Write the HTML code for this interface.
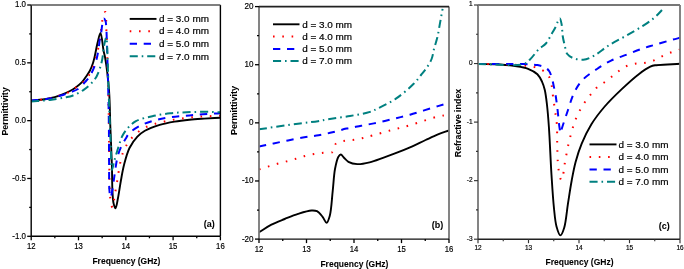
<!DOCTYPE html>
<html><head><meta charset="utf-8"><style>
html,body{margin:0;padding:0;background:#fff;width:684px;height:269px;overflow:hidden}
svg{display:block;will-change:transform}
text{font-family:"Liberation Sans",sans-serif;fill:#000;stroke:#000;stroke-width:0.18px}
text[font-weight=bold]{stroke-width:0.05px}
</style></head><body>
<svg width="684" height="269" viewBox="0 0 684 269">
<rect width="684" height="269" fill="#fff"/>
<defs><clipPath id="ca"><rect x="31.2" y="5.0" width="189.20000000000002" height="231.3"/></clipPath><clipPath id="cb"><rect x="259.0" y="6.6" width="190.0" height="232.5"/></clipPath><clipPath id="cc"><rect x="478.0" y="5.0" width="202.0" height="234.2"/></clipPath></defs>
<path d="M31.00,100.60 C34.00,100.33 36.93,100.17 40.00,99.80 C43.25,99.41 46.69,99.04 50.00,98.30 C53.36,97.55 56.70,96.50 60.00,95.30 C63.37,94.07 67.14,92.49 70.00,91.00 C72.30,89.80 74.05,88.72 76.00,87.30 C78.06,85.80 80.29,84.04 82.00,82.20 C83.59,80.49 84.69,78.61 86.00,76.70 C87.36,74.71 88.85,72.72 90.00,70.50 C91.20,68.17 92.17,65.57 93.00,63.00 C93.84,60.40 94.33,57.94 95.00,55.00 C95.82,51.41 96.54,46.80 97.50,43.00 C98.39,39.49 99.59,32.95 100.50,33.00 C101.70,33.07 102.71,46.62 103.60,51.00 C104.12,53.55 104.50,54.18 105.00,57.00 C106.16,63.56 108.10,78.59 109.00,90.00 C109.96,102.20 109.91,115.42 110.40,128.00 C110.88,140.42 111.56,153.87 111.90,165.00 C112.18,174.15 112.04,183.02 112.40,190.00 C112.66,195.04 112.74,199.66 113.50,203.00 C114.00,205.20 114.86,208.34 115.50,208.30 C116.38,208.25 117.20,201.93 118.00,198.00 C119.05,192.85 119.95,185.72 121.00,180.00 C121.96,174.76 122.67,170.12 124.00,165.00 C125.44,159.47 127.05,152.93 129.50,148.00 C131.66,143.67 134.56,139.70 137.40,136.70 C139.76,134.20 141.83,132.57 144.90,130.80 C148.87,128.51 154.70,126.44 159.70,124.90 C164.60,123.39 169.62,122.47 174.60,121.60 C179.52,120.74 184.45,120.20 189.40,119.70 C194.35,119.20 199.27,118.93 204.30,118.60 C209.46,118.26 214.77,118.00 220.00,117.70" fill="none" stroke="#000" stroke-width="1.9" stroke-linejoin="round" clip-path="url(#ca)"/>
<path d="M31.00,100.60 C37.33,99.83 44.71,99.40 50.00,98.30 C53.90,97.48 56.86,96.32 60.00,95.30 C62.83,94.38 65.40,93.76 68.00,92.50 C70.75,91.17 73.30,89.29 76.00,87.40 C78.96,85.33 82.45,83.25 85.00,80.50 C87.59,77.70 89.62,74.33 91.40,70.70 C93.35,66.73 94.71,62.01 96.00,57.50 C97.32,52.91 98.27,48.43 99.20,43.40 C100.25,37.69 101.06,30.11 101.80,25.00 C102.33,21.34 102.38,17.94 103.20,15.60 C103.74,14.05 104.77,11.87 105.30,12.00 C106.44,12.27 106.05,23.19 106.40,31.00 C106.97,43.53 107.58,64.01 108.00,80.00 C108.40,95.32 108.68,110.44 108.90,125.00 C109.11,138.73 109.09,152.62 109.30,165.00 C109.48,175.72 109.53,187.93 110.00,195.00 C110.26,198.88 110.37,201.73 111.00,204.00 C111.41,205.48 112.15,207.56 112.60,207.50 C113.23,207.42 113.56,202.49 114.00,200.00 C114.43,197.55 114.74,195.45 115.20,192.70 C115.80,189.13 116.56,184.80 117.30,180.40 C118.15,175.33 118.95,168.96 120.00,164.00 C120.89,159.81 121.67,156.02 123.00,152.50 C124.22,149.27 125.60,146.47 127.50,143.60 C129.58,140.46 132.36,137.12 135.20,134.50 C137.92,131.99 141.03,129.81 144.10,128.10 C146.98,126.50 149.93,125.43 153.00,124.40 C156.13,123.35 159.53,122.63 162.70,121.90 C165.72,121.21 168.60,120.65 171.60,120.10 C174.64,119.55 177.71,119.05 180.80,118.60 C183.91,118.15 187.11,117.72 190.20,117.40 C193.20,117.09 196.09,116.90 199.10,116.70 C202.19,116.50 205.21,116.34 208.50,116.20 C212.14,116.04 216.17,115.93 220.00,115.80" fill="none" stroke="#ff0000" stroke-width="2" stroke-dasharray="1.6 7.7" stroke-linejoin="round" clip-path="url(#ca)"/>
<path d="M31.00,100.60 C37.33,99.93 44.71,99.61 50.00,98.60 C53.90,97.85 56.68,96.83 60.00,95.80 C63.35,94.76 66.87,93.59 70.00,92.40 C72.84,91.32 75.49,90.70 78.00,89.00 C80.87,87.07 83.85,83.45 86.00,81.00 C87.63,79.14 88.73,77.85 90.00,75.80 C91.57,73.26 93.28,69.60 94.40,66.70 C95.36,64.20 95.87,62.08 96.50,59.50 C97.22,56.57 97.84,53.36 98.40,50.00 C99.03,46.24 99.45,40.96 100.00,38.00 C100.33,36.23 100.68,35.48 101.00,33.80 C101.47,31.32 101.77,27.25 102.30,24.50 C102.73,22.27 103.12,18.62 103.80,18.50 C104.28,18.42 105.09,19.89 105.50,21.00 C106.13,22.69 106.09,25.35 106.30,28.00 C106.57,31.46 106.61,34.67 106.80,40.00 C107.18,50.67 107.84,72.73 108.20,88.00 C108.53,101.94 108.75,114.93 108.90,128.00 C109.04,140.57 109.00,153.87 109.10,165.00 C109.18,174.15 108.94,184.11 109.40,190.00 C109.66,193.24 110.02,197.47 110.50,197.50 C110.92,197.53 111.59,193.88 112.00,192.00 C112.43,190.05 112.60,188.61 113.00,186.00 C113.75,181.13 115.02,170.71 116.00,165.00 C116.68,161.04 117.02,158.29 118.00,155.00 C119.00,151.62 120.57,147.93 122.00,145.00 C123.20,142.55 124.57,140.51 125.80,138.50 C126.89,136.71 127.37,135.19 129.00,133.50 C131.49,130.92 136.25,127.76 140.40,125.60 C144.72,123.35 149.68,121.76 154.50,120.40 C159.35,119.03 164.48,118.15 169.40,117.40 C174.15,116.67 178.86,116.34 183.50,115.90 C188.02,115.47 192.32,115.16 196.90,114.80 C201.71,114.42 207.47,113.96 211.70,113.70 C214.86,113.51 217.23,113.43 220.00,113.30" fill="none" stroke="#0000ff" stroke-width="2" stroke-dasharray="7.3 6.7" stroke-linejoin="round" clip-path="url(#ca)"/>
<path d="M31.00,101.50 C37.33,100.97 44.01,100.64 50.00,99.90 C55.42,99.23 61.28,98.23 65.40,97.40 C68.20,96.83 69.84,96.67 72.40,95.70 C75.85,94.40 80.36,92.23 84.00,89.60 C87.93,86.76 92.28,82.85 95.00,79.00 C97.42,75.58 98.77,71.48 100.00,68.00 C101.05,65.03 101.55,62.78 102.20,59.50 C103.07,55.12 103.53,48.04 104.40,44.00 C104.97,41.34 105.84,37.45 106.30,37.50 C106.89,37.56 106.92,43.70 107.20,48.50 C107.72,57.59 108.04,74.79 108.50,88.00 C108.97,101.29 109.53,116.65 110.00,128.00 C110.35,136.42 110.78,143.37 111.00,150.00 C111.18,155.48 111.01,161.35 111.30,165.00 C111.47,167.12 111.64,169.98 112.00,170.00 C112.46,170.02 113.29,164.66 114.00,162.00 C114.72,159.33 115.47,156.79 116.30,154.00 C117.22,150.92 118.26,147.40 119.30,144.30 C120.27,141.41 120.96,138.62 122.30,136.00 C123.67,133.32 125.38,130.78 127.50,128.40 C129.83,125.78 132.38,123.04 135.90,121.10 C140.26,118.70 146.68,117.49 152.30,116.20 C158.07,114.87 164.27,113.97 170.10,113.30 C175.66,112.66 180.92,112.45 186.50,112.20 C192.31,111.94 198.55,111.79 204.30,111.80 C209.70,111.81 214.77,112.07 220.00,112.20" fill="none" stroke="#008080" stroke-width="2" stroke-dasharray="8.1 3.9 1.6 3.9" stroke-linejoin="round" clip-path="url(#ca)"/>
<line x1="31.2" y1="5.0" x2="31.2" y2="236.3" stroke="#000" stroke-width="1.4"/><line x1="220.4" y1="5.0" x2="220.4" y2="236.3" stroke="#000" stroke-width="1.4"/><line x1="31.2" y1="5.0" x2="220.4" y2="5.0" stroke="#555" stroke-width="1.5"/><line x1="31.2" y1="236.3" x2="220.4" y2="236.3" stroke="#000" stroke-width="1.4"/>
<line x1="27.2" y1="5.00" x2="31.2" y2="5.00" stroke="#000" stroke-width="1.3"/>
<line x1="29.2" y1="33.91" x2="31.2" y2="33.91" stroke="#000" stroke-width="1.3"/>
<line x1="27.2" y1="62.83" x2="31.2" y2="62.83" stroke="#000" stroke-width="1.3"/>
<line x1="29.2" y1="91.74" x2="31.2" y2="91.74" stroke="#000" stroke-width="1.3"/>
<line x1="27.2" y1="120.65" x2="31.2" y2="120.65" stroke="#000" stroke-width="1.3"/>
<line x1="29.2" y1="149.56" x2="31.2" y2="149.56" stroke="#000" stroke-width="1.3"/>
<line x1="27.2" y1="178.48" x2="31.2" y2="178.48" stroke="#000" stroke-width="1.3"/>
<line x1="29.2" y1="207.39" x2="31.2" y2="207.39" stroke="#000" stroke-width="1.3"/>
<line x1="27.2" y1="236.30" x2="31.2" y2="236.30" stroke="#000" stroke-width="1.3"/>
<line x1="31.20" y1="236.3" x2="31.20" y2="240.3" stroke="#000" stroke-width="1.3"/>
<line x1="54.85" y1="236.3" x2="54.85" y2="238.3" stroke="#000" stroke-width="1.3"/>
<line x1="78.50" y1="236.3" x2="78.50" y2="240.3" stroke="#000" stroke-width="1.3"/>
<line x1="102.15" y1="236.3" x2="102.15" y2="238.3" stroke="#000" stroke-width="1.3"/>
<line x1="125.80" y1="236.3" x2="125.80" y2="240.3" stroke="#000" stroke-width="1.3"/>
<line x1="149.45" y1="236.3" x2="149.45" y2="238.3" stroke="#000" stroke-width="1.3"/>
<line x1="173.10" y1="236.3" x2="173.10" y2="240.3" stroke="#000" stroke-width="1.3"/>
<line x1="196.75" y1="236.3" x2="196.75" y2="238.3" stroke="#000" stroke-width="1.3"/>
<line x1="220.40" y1="236.3" x2="220.40" y2="240.3" stroke="#000" stroke-width="1.3"/>
<text transform="translate(26.0,7.22) scale(0.88,1)" text-anchor="end" font-size="9">1.0</text>
<text transform="translate(26.0,65.05) scale(0.88,1)" text-anchor="end" font-size="9">0.5</text>
<text transform="translate(26.0,122.87) scale(0.88,1)" text-anchor="end" font-size="9">0.0</text>
<text transform="translate(26.0,180.70) scale(0.88,1)" text-anchor="end" font-size="9">-0.5</text>
<text transform="translate(26.0,238.52) scale(0.88,1)" text-anchor="end" font-size="9">-1.0</text>
<text transform="translate(31.20,248.88) scale(0.9,1)" text-anchor="middle" font-size="8.6">12</text>
<text transform="translate(78.50,248.88) scale(0.9,1)" text-anchor="middle" font-size="8.6">13</text>
<text transform="translate(125.80,248.88) scale(0.9,1)" text-anchor="middle" font-size="8.6">14</text>
<text transform="translate(173.10,248.88) scale(0.9,1)" text-anchor="middle" font-size="8.6">15</text>
<text transform="translate(220.40,248.88) scale(0.9,1)" text-anchor="middle" font-size="8.6">16</text>
<text transform="translate(7.52,111.4) rotate(-90) scale(1.0,1)" text-anchor="middle" font-size="8.9" font-weight="bold">Permittivity</text>
<text transform="translate(126.4,264.48) scale(1.0,1)" text-anchor="middle" font-size="8.5" font-weight="bold">Frequency (GHz)</text>
<text transform="translate(209.2,227.35) scale(1.0,1)" text-anchor="middle" font-size="9" font-weight="bold">(a)</text>
<path d="M129.7,18.9 L156.5,18.9" fill="none" stroke="#000" stroke-width="1.9"/>
<text x="0" y="0" transform="translate(159.0,22.12) scale(1.08,1)" font-size="9.2">d = 3.0 mm</text>
<path d="M129.7,31.2 L156.5,31.2" fill="none" stroke="#ff0000" stroke-width="2" stroke-dasharray="1.6 7.7"/>
<text x="0" y="0" transform="translate(159.0,34.42) scale(1.08,1)" font-size="9.2">d = 4.0 mm</text>
<path d="M129.7,43.7 L156.5,43.7" fill="none" stroke="#0000ff" stroke-width="2" stroke-dasharray="7.3 6.7"/>
<text x="0" y="0" transform="translate(159.0,46.92) scale(1.08,1)" font-size="9.2">d = 5.0 mm</text>
<path d="M129.7,56.3 L156.5,56.3" fill="none" stroke="#008080" stroke-width="2" stroke-dasharray="8.1 3.9 1.6 3.9"/>
<text x="0" y="0" transform="translate(159.0,59.52) scale(1.08,1)" font-size="9.2">d = 7.0 mm</text>
<path d="M259.00,232.30 C263.13,229.73 267.10,226.82 271.40,224.60 C275.67,222.39 280.24,220.79 284.70,219.00 C289.14,217.22 293.59,215.32 298.10,213.90 C302.53,212.50 308.00,210.71 311.50,210.50 C313.72,210.36 315.29,210.36 317.00,211.20 C319.04,212.20 320.97,214.82 322.60,216.80 C324.15,218.69 325.42,222.90 326.60,222.80 C327.83,222.70 328.92,218.87 329.80,215.70 C331.37,210.05 331.81,199.08 332.70,191.10 C333.54,183.54 333.82,175.25 335.00,169.00 C335.90,164.26 336.97,159.04 338.40,156.70 C339.12,155.52 339.96,154.48 340.80,154.50 C341.80,154.53 342.83,156.67 344.00,157.80 C345.33,159.09 346.52,160.79 348.40,161.80 C350.73,163.06 354.07,163.93 357.30,164.10 C361.05,164.30 365.46,163.29 369.60,162.30 C374.02,161.24 378.67,159.32 383.00,157.80 C387.12,156.35 390.79,155.03 395.00,153.40 C399.74,151.57 404.98,149.49 410.00,147.30 C415.18,145.04 420.69,142.26 425.60,140.00 C429.96,137.99 433.96,136.04 438.00,134.40 C441.75,132.88 445.33,131.73 449.00,130.40" fill="none" stroke="#000" stroke-width="1.9" stroke-linejoin="round" clip-path="url(#cb)"/>
<path d="M259.00,169.40 C262.00,168.47 264.97,167.53 268.00,166.60 C271.07,165.66 274.19,164.67 277.30,163.80 C280.39,162.94 283.50,162.23 286.60,161.40 C289.70,160.57 292.84,159.71 295.90,158.80 C298.91,157.91 301.79,156.78 304.80,156.00 C307.82,155.21 310.92,154.63 314.00,154.10 C317.08,153.57 320.20,153.15 323.30,152.80 C326.40,152.45 330.78,153.46 332.60,152.00 C334.10,150.80 333.73,147.61 334.50,146.00 C335.09,144.78 335.38,143.79 336.50,143.00 C338.24,141.76 342.09,141.33 345.00,140.80 C347.99,140.25 351.12,140.27 354.20,139.80 C357.35,139.31 360.59,138.64 363.70,137.90 C366.75,137.17 369.22,136.38 372.70,135.40 C377.53,134.04 384.02,132.14 390.00,130.50 C396.42,128.74 402.80,127.27 410.00,125.20 C418.57,122.73 430.76,118.21 438.00,116.50 C442.46,115.45 445.33,115.30 449.00,114.70" fill="none" stroke="#ff0000" stroke-width="2" stroke-dasharray="1.6 7.7" stroke-linejoin="round" clip-path="url(#cb)"/>
<path d="M259.00,146.50 C263.87,145.47 267.95,144.57 273.60,143.40 C281.40,141.79 293.32,139.24 301.50,137.80 C307.88,136.68 313.21,136.17 318.60,135.20 C323.49,134.32 327.88,133.40 332.50,132.30 C337.15,131.20 341.67,129.67 346.40,128.60 C351.26,127.50 356.19,126.78 361.30,125.80 C366.71,124.76 372.42,123.71 378.00,122.50 C383.65,121.28 389.52,119.84 395.00,118.50 C400.16,117.24 404.25,116.31 410.00,114.70 C417.91,112.48 430.80,108.22 438.00,106.10 C442.50,104.78 445.33,104.03 449.00,103.00" fill="none" stroke="#0000ff" stroke-width="2" stroke-dasharray="7.3 6.7" stroke-linejoin="round" clip-path="url(#cb)"/>
<path d="M259.00,129.30 C272.67,127.33 289.10,124.85 300.00,123.40 C307.21,122.44 312.92,122.00 318.00,121.20 C321.77,120.60 323.87,119.97 327.80,119.30 C333.70,118.29 342.81,117.27 350.00,116.00 C356.86,114.79 364.90,113.55 370.00,111.90 C373.34,110.82 374.84,109.86 378.00,108.30 C382.81,105.93 390.13,102.60 395.90,98.70 C402.06,94.53 409.22,88.30 413.70,83.80 C416.85,80.64 418.76,77.78 421.00,75.00 C422.98,72.55 424.79,70.55 426.50,68.00 C428.34,65.25 430.35,62.17 431.60,59.00 C432.85,55.84 433.09,52.43 434.00,49.00 C434.98,45.31 436.34,41.65 437.30,37.60 C438.37,33.10 439.11,27.99 440.00,23.20 C440.88,18.43 441.73,13.67 442.60,8.90" fill="none" stroke="#008080" stroke-width="2" stroke-dasharray="8.1 3.9 1.6 3.9" stroke-linejoin="round" clip-path="url(#cb)"/>
<line x1="259.0" y1="6.6" x2="259.0" y2="239.1" stroke="#777" stroke-width="1.8"/><line x1="449.0" y1="6.6" x2="449.0" y2="239.1" stroke="#777" stroke-width="1.8"/><line x1="259.0" y1="6.6" x2="449.0" y2="6.6" stroke="#222" stroke-width="1.6"/><line x1="259.0" y1="239.1" x2="449.0" y2="239.1" stroke="#111" stroke-width="1.1"/>
<line x1="255.0" y1="6.60" x2="259.0" y2="6.60" stroke="#000" stroke-width="1.3"/>
<line x1="257.0" y1="35.66" x2="259.0" y2="35.66" stroke="#000" stroke-width="1.3"/>
<line x1="255.0" y1="64.72" x2="259.0" y2="64.72" stroke="#000" stroke-width="1.3"/>
<line x1="257.0" y1="93.79" x2="259.0" y2="93.79" stroke="#000" stroke-width="1.3"/>
<line x1="255.0" y1="122.85" x2="259.0" y2="122.85" stroke="#000" stroke-width="1.3"/>
<line x1="257.0" y1="151.91" x2="259.0" y2="151.91" stroke="#000" stroke-width="1.3"/>
<line x1="255.0" y1="180.97" x2="259.0" y2="180.97" stroke="#000" stroke-width="1.3"/>
<line x1="257.0" y1="210.04" x2="259.0" y2="210.04" stroke="#000" stroke-width="1.3"/>
<line x1="255.0" y1="239.10" x2="259.0" y2="239.10" stroke="#000" stroke-width="1.3"/>
<line x1="259.00" y1="239.1" x2="259.00" y2="243.1" stroke="#000" stroke-width="1.3"/>
<line x1="282.75" y1="239.1" x2="282.75" y2="241.1" stroke="#000" stroke-width="1.3"/>
<line x1="306.50" y1="239.1" x2="306.50" y2="243.1" stroke="#000" stroke-width="1.3"/>
<line x1="330.25" y1="239.1" x2="330.25" y2="241.1" stroke="#000" stroke-width="1.3"/>
<line x1="354.00" y1="239.1" x2="354.00" y2="243.1" stroke="#000" stroke-width="1.3"/>
<line x1="377.75" y1="239.1" x2="377.75" y2="241.1" stroke="#000" stroke-width="1.3"/>
<line x1="401.50" y1="239.1" x2="401.50" y2="243.1" stroke="#000" stroke-width="1.3"/>
<line x1="425.25" y1="239.1" x2="425.25" y2="241.1" stroke="#000" stroke-width="1.3"/>
<line x1="449.00" y1="239.1" x2="449.00" y2="243.1" stroke="#000" stroke-width="1.3"/>
<text transform="translate(253.6,9.02) scale(0.9,1)" text-anchor="end" font-size="9">20</text>
<text transform="translate(253.6,67.15) scale(0.9,1)" text-anchor="end" font-size="9">10</text>
<text transform="translate(253.6,125.27) scale(0.9,1)" text-anchor="end" font-size="9">0</text>
<text transform="translate(253.6,183.40) scale(0.9,1)" text-anchor="end" font-size="9">-10</text>
<text transform="translate(253.6,241.52) scale(0.9,1)" text-anchor="end" font-size="9">-20</text>
<text transform="translate(259.00,251.62) scale(0.86,1)" text-anchor="middle" font-size="9">12</text>
<text transform="translate(306.50,251.62) scale(0.86,1)" text-anchor="middle" font-size="9">13</text>
<text transform="translate(354.00,251.62) scale(0.86,1)" text-anchor="middle" font-size="9">14</text>
<text transform="translate(401.50,251.62) scale(0.86,1)" text-anchor="middle" font-size="9">15</text>
<text transform="translate(449.00,251.62) scale(0.86,1)" text-anchor="middle" font-size="9">16</text>
<text transform="translate(236.75,110.6) rotate(-90) scale(1.0,1)" text-anchor="middle" font-size="9" font-weight="bold">Permittivity</text>
<text transform="translate(354.4,266.88) scale(1.0,1)" text-anchor="middle" font-size="8.5" font-weight="bold">Frequency (GHz)</text>
<text transform="translate(437.4,227.85) scale(1.0,1)" text-anchor="middle" font-size="9" font-weight="bold">(b)</text>
<path d="M273,24.3 L299.5,24.3" fill="none" stroke="#000" stroke-width="1.9"/>
<text x="0" y="0" transform="translate(302.2,27.52) scale(1.08,1)" font-size="9.2">d = 3.0 mm</text>
<path d="M273,36.6 L299.5,36.6" fill="none" stroke="#ff0000" stroke-width="2" stroke-dasharray="1.6 7.7"/>
<text x="0" y="0" transform="translate(302.2,39.82) scale(1.08,1)" font-size="9.2">d = 4.0 mm</text>
<path d="M273,48.9 L299.5,48.9" fill="none" stroke="#0000ff" stroke-width="2" stroke-dasharray="7.3 6.7"/>
<text x="0" y="0" transform="translate(302.2,52.12) scale(1.08,1)" font-size="9.2">d = 5.0 mm</text>
<path d="M273,61.1 L299.5,61.1" fill="none" stroke="#008080" stroke-width="2" stroke-dasharray="8.1 3.9 1.6 3.9"/>
<text x="0" y="0" transform="translate(302.2,64.32) scale(1.08,1)" font-size="9.2">d = 7.0 mm</text>
<path d="M478.00,64.00 C485.33,64.17 493.36,64.10 500.00,64.50 C505.51,64.84 510.28,65.24 515.10,66.00 C519.62,66.71 524.24,67.29 528.10,68.80 C531.58,70.16 535.02,71.98 537.40,74.30 C539.56,76.40 540.86,79.17 542.10,81.80 C543.32,84.40 544.05,86.82 544.80,90.00 C545.80,94.21 546.36,99.51 547.00,105.00 C547.77,111.62 548.29,118.25 548.90,127.00 C549.81,139.91 550.56,160.44 551.50,175.00 C552.28,187.17 552.99,199.08 554.00,208.50 C554.74,215.41 555.13,221.52 556.50,226.40 C557.51,229.99 559.07,235.37 560.40,235.40 C561.64,235.43 563.13,231.09 564.20,227.70 C566.02,221.94 566.73,211.29 568.00,203.30 C569.23,195.57 570.36,187.69 571.70,180.50 C572.91,174.00 573.95,168.10 575.60,162.00 C577.27,155.84 579.17,149.80 581.70,143.70 C584.38,137.23 587.60,130.47 591.40,124.30 C595.25,118.06 599.74,112.28 604.70,106.50 C609.97,100.36 616.40,94.17 622.30,88.60 C627.87,83.35 633.93,77.79 639.10,73.90 C643.09,70.90 647.28,68.08 650.30,66.70 C652.13,65.86 653.03,65.65 655.00,65.30 C658.16,64.74 663.42,64.75 667.60,64.50 C671.75,64.25 675.87,64.03 680.00,63.80" fill="none" stroke="#000" stroke-width="1.9" stroke-linejoin="round" clip-path="url(#cc)"/>
<path d="M478.00,64.00 C488.67,64.17 500.14,63.93 510.00,64.50 C518.50,65.00 527.77,65.46 533.70,66.90 C537.46,67.81 540.10,68.90 542.60,70.40 C544.75,71.69 546.61,73.11 548.00,75.00 C549.44,76.95 550.22,79.19 551.00,82.00 C552.08,85.89 552.28,91.33 553.00,96.40 C553.80,102.09 554.90,109.28 555.60,114.50 C556.13,118.47 556.62,121.02 556.90,125.00 C557.26,130.19 557.05,136.94 557.20,143.00 C557.35,149.17 557.41,156.40 557.80,161.70 C558.09,165.65 558.38,168.81 559.00,172.00 C559.56,174.86 560.40,179.81 561.20,180.00 C561.55,180.09 561.98,179.46 562.30,178.80 C563.07,177.23 563.42,172.74 563.90,169.70 C564.38,166.67 564.66,163.73 565.20,160.60 C565.78,157.24 566.63,153.56 567.30,150.20 C567.93,147.04 568.37,144.04 569.10,141.00 C569.83,137.94 570.83,134.93 571.70,131.90 C572.57,128.87 573.23,125.82 574.30,122.80 C575.41,119.68 576.79,116.57 578.30,113.50 C579.85,110.34 581.54,107.12 583.50,104.10 C585.50,101.02 587.88,98.06 590.20,95.20 C592.48,92.39 594.55,89.53 597.30,87.10 C600.21,84.53 604.10,82.68 607.30,80.30 C610.43,77.97 613.27,75.30 616.30,73.00 C619.24,70.77 622.07,68.23 625.20,66.70 C628.15,65.26 631.37,64.52 634.50,63.90 C637.57,63.30 640.72,63.51 643.80,63.00 C646.92,62.48 650.06,61.91 653.10,60.80 C656.27,59.64 659.28,57.55 662.40,56.10 C665.45,54.68 668.58,53.32 671.60,52.20 C674.44,51.14 677.20,50.40 680.00,49.50" fill="none" stroke="#ff0000" stroke-width="2" stroke-dasharray="1.6 7.7" stroke-linejoin="round" clip-path="url(#cc)"/>
<path d="M478.00,64.00 C493.47,64.03 513.70,63.68 524.40,64.10 C530.07,64.32 533.82,64.45 537.40,65.10 C540.00,65.57 542.03,65.99 544.00,67.00 C545.92,67.98 547.65,68.86 549.10,71.00 C551.54,74.59 552.98,82.87 554.30,88.60 C555.52,93.92 556.10,98.47 556.90,104.20 C557.87,111.18 558.71,122.43 559.50,127.50 C559.89,129.98 560.17,132.98 560.60,133.00 C561.01,133.02 561.33,130.17 562.00,128.00 C563.27,123.85 565.97,115.91 568.00,110.00 C569.98,104.24 571.45,98.15 574.00,93.00 C576.36,88.22 578.88,83.88 582.50,80.00 C586.42,75.80 592.11,72.30 597.00,69.00 C601.65,65.87 606.17,62.99 611.10,60.60 C616.09,58.18 621.57,56.62 626.80,54.60 C632.04,52.58 637.57,50.19 642.50,48.50 C646.76,47.04 650.15,46.21 654.60,44.90 C660.05,43.30 668.11,40.87 672.80,39.60 C675.74,38.81 677.60,38.40 680.00,37.80" fill="none" stroke="#0000ff" stroke-width="2" stroke-dasharray="7.3 6.7" stroke-linejoin="round" clip-path="url(#cc)"/>
<path d="M478.00,64.00 C493.33,64.00 516.06,66.65 524.00,64.00 C527.21,62.93 527.91,61.46 530.00,59.50 C532.84,56.84 536.07,51.83 539.00,49.00 C541.34,46.74 543.89,45.79 545.90,43.50 C548.13,40.96 549.84,37.03 551.50,34.20 C552.88,31.85 554.11,29.90 555.20,27.70 C556.26,25.56 557.08,22.88 558.00,21.20 C558.64,20.04 559.35,18.31 559.90,18.40 C560.67,18.53 561.25,22.42 561.70,24.90 C562.28,28.09 562.18,32.57 562.70,36.00 C563.16,39.01 563.77,41.52 564.50,44.40 C565.28,47.51 565.63,51.67 567.30,54.00 C568.69,55.94 570.69,57.05 573.00,58.00 C575.82,59.17 579.86,60.14 583.30,59.80 C586.93,59.45 590.44,57.61 594.20,55.60 C598.84,53.12 603.59,48.60 608.70,45.40 C614.03,42.05 619.98,39.21 625.60,36.00 C631.25,32.77 637.40,29.40 642.50,26.10 C646.94,23.23 651.04,20.54 654.60,17.50 C657.82,14.74 660.27,11.70 663.10,8.80" fill="none" stroke="#008080" stroke-width="2" stroke-dasharray="8.1 3.9 1.6 3.9" stroke-linejoin="round" clip-path="url(#cc)"/>
<line x1="478.0" y1="5.0" x2="478.0" y2="239.2" stroke="#777" stroke-width="1.8"/><line x1="680.0" y1="5.0" x2="680.0" y2="239.2" stroke="#777" stroke-width="1.8"/><line x1="478.0" y1="5.0" x2="680.0" y2="5.0" stroke="#777" stroke-width="1.8"/><line x1="478.0" y1="239.2" x2="680.0" y2="239.2" stroke="#222" stroke-width="1.4"/>
<line x1="474.0" y1="5.00" x2="478.0" y2="5.00" stroke="#333" stroke-width="1.15"/>
<line x1="476.0" y1="34.27" x2="478.0" y2="34.27" stroke="#333" stroke-width="1.15"/>
<line x1="474.0" y1="63.55" x2="478.0" y2="63.55" stroke="#333" stroke-width="1.15"/>
<line x1="476.0" y1="92.82" x2="478.0" y2="92.82" stroke="#333" stroke-width="1.15"/>
<line x1="474.0" y1="122.10" x2="478.0" y2="122.10" stroke="#333" stroke-width="1.15"/>
<line x1="476.0" y1="151.38" x2="478.0" y2="151.38" stroke="#333" stroke-width="1.15"/>
<line x1="474.0" y1="180.65" x2="478.0" y2="180.65" stroke="#333" stroke-width="1.15"/>
<line x1="476.0" y1="209.92" x2="478.0" y2="209.92" stroke="#333" stroke-width="1.15"/>
<line x1="474.0" y1="239.20" x2="478.0" y2="239.20" stroke="#333" stroke-width="1.15"/>
<line x1="478.00" y1="239.2" x2="478.00" y2="243.2" stroke="#333" stroke-width="1.15"/>
<line x1="503.25" y1="239.2" x2="503.25" y2="241.2" stroke="#333" stroke-width="1.15"/>
<line x1="528.50" y1="239.2" x2="528.50" y2="243.2" stroke="#333" stroke-width="1.15"/>
<line x1="553.75" y1="239.2" x2="553.75" y2="241.2" stroke="#333" stroke-width="1.15"/>
<line x1="579.00" y1="239.2" x2="579.00" y2="243.2" stroke="#333" stroke-width="1.15"/>
<line x1="604.25" y1="239.2" x2="604.25" y2="241.2" stroke="#333" stroke-width="1.15"/>
<line x1="629.50" y1="239.2" x2="629.50" y2="243.2" stroke="#333" stroke-width="1.15"/>
<line x1="654.75" y1="239.2" x2="654.75" y2="241.2" stroke="#333" stroke-width="1.15"/>
<line x1="680.00" y1="239.2" x2="680.00" y2="243.2" stroke="#333" stroke-width="1.15"/>
<text transform="translate(472.5,6.43) scale(1.0,1)" text-anchor="end" font-size="6.5">1</text>
<text transform="translate(472.5,64.98) scale(1.0,1)" text-anchor="end" font-size="6.5">0</text>
<text transform="translate(472.5,123.53) scale(1.0,1)" text-anchor="end" font-size="6.5">-1</text>
<text transform="translate(472.5,182.08) scale(1.0,1)" text-anchor="end" font-size="6.5">-2</text>
<text transform="translate(472.5,240.63) scale(1.0,1)" text-anchor="end" font-size="6.5">-3</text>
<text transform="translate(478.00,250.18) scale(0.9,1)" text-anchor="middle" font-size="7.2">12</text>
<text transform="translate(528.50,250.18) scale(0.9,1)" text-anchor="middle" font-size="7.2">13</text>
<text transform="translate(579.00,250.18) scale(0.9,1)" text-anchor="middle" font-size="7.2">14</text>
<text transform="translate(629.50,250.18) scale(0.9,1)" text-anchor="middle" font-size="7.2">15</text>
<text transform="translate(680.00,250.18) scale(0.9,1)" text-anchor="middle" font-size="7.2">16</text>
<text transform="translate(461.12,123.0) rotate(-90) scale(1.0,1)" text-anchor="middle" font-size="8.9" font-weight="bold">Refractive index</text>
<text transform="translate(579.5,265.28) scale(1.0,1)" text-anchor="middle" font-size="8.5" font-weight="bold">Frequency (GHz)</text>
<text transform="translate(664.3,229.45) scale(1.0,1)" text-anchor="middle" font-size="9" font-weight="bold">(c)</text>
<path d="M589.5,144.4 L616.5,144.4" fill="none" stroke="#000" stroke-width="1.9"/>
<text x="0" y="0" transform="translate(618.5,147.62) scale(1.08,1)" font-size="9.2">d = 3.0 mm</text>
<path d="M589.5,157 L616.5,157" fill="none" stroke="#ff0000" stroke-width="2" stroke-dasharray="1.6 7.7"/>
<text x="0" y="0" transform="translate(618.5,160.22) scale(1.08,1)" font-size="9.2">d = 4.0 mm</text>
<path d="M589.5,169.4 L616.5,169.4" fill="none" stroke="#0000ff" stroke-width="2" stroke-dasharray="7.3 6.7"/>
<text x="0" y="0" transform="translate(618.5,172.62) scale(1.08,1)" font-size="9.2">d = 5.0 mm</text>
<path d="M589.5,181.7 L616.5,181.7" fill="none" stroke="#008080" stroke-width="2" stroke-dasharray="8.1 3.9 1.6 3.9"/>
<text x="0" y="0" transform="translate(618.5,184.92) scale(1.08,1)" font-size="9.2">d = 7.0 mm</text>
</svg></body></html>
